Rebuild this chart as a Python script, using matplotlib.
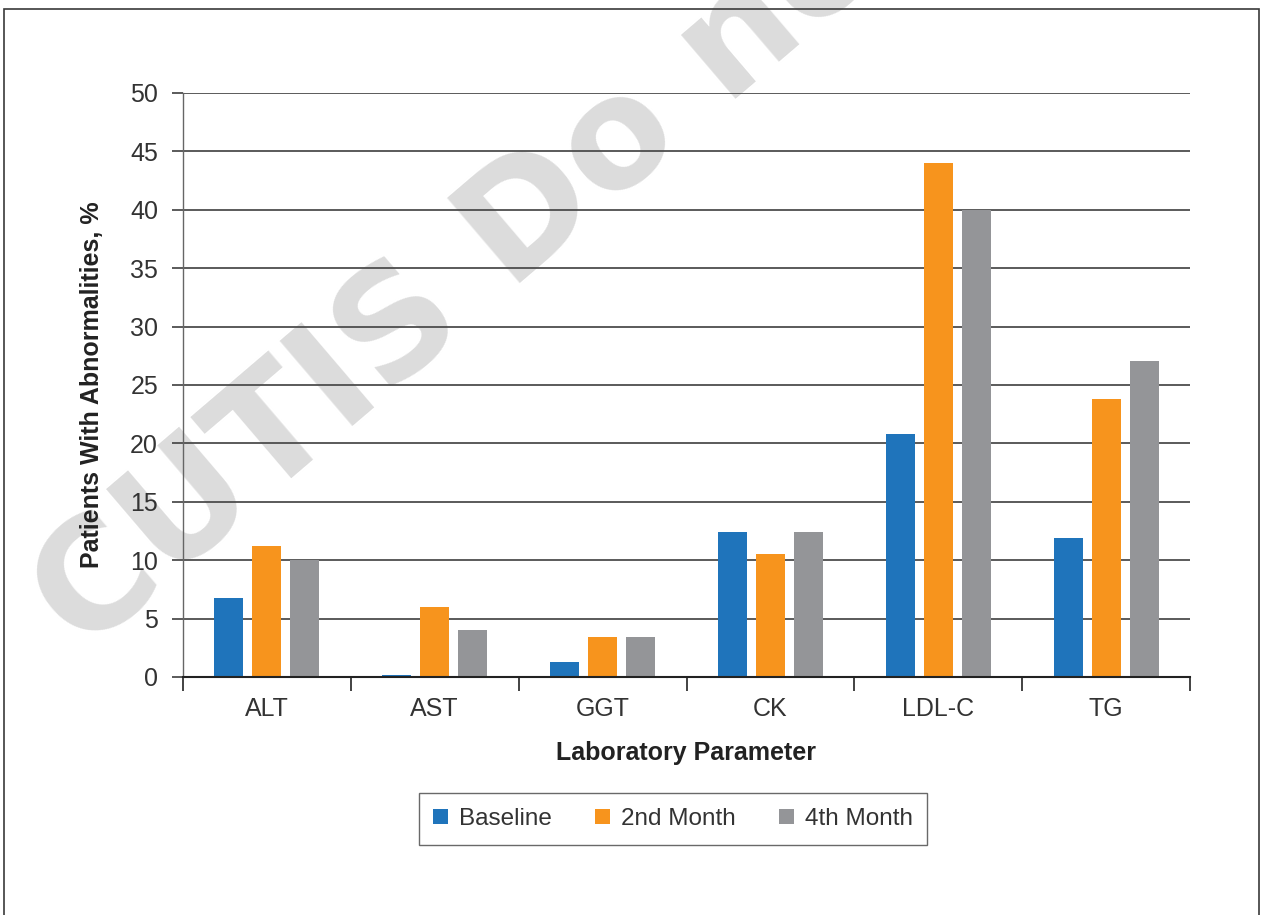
import numpy as np
import matplotlib
matplotlib.use("Agg")
import matplotlib.pyplot as plt
from matplotlib.patches import Rectangle

plt.rcParams['font.family'] = ['Liberation Sans', 'DejaVu Sans']

# data
parametreler = ["ALT", "AST", "GGT", "CK", "LDL-C", "TG"]
baseline = [6.8, 0.2, 1.25, 12.4, 20.8, 11.9]
ay2 = [11.2, 6.0, 3.4, 10.5, 44.0, 23.8]
ay4 = [10.0, 4.0, 3.4, 12.4, 40.0, 27.05]
seri_adlari = ["Baseline", "2nd Month", "4th Month"]
renkler = ["#1f74bb", "#f7941d", "#949598"]
y_ticks = list(range(0, 51, 5))

W, H = 1261, 915
fig = plt.figure(figsize=(W / 100, H / 100), dpi=100)
ax = fig.add_axes([183 / W, 1 - 677 / H, 1007 / W, 584 / H])
ax.patch.set_visible(False)

# watermark behind everything
fig.text(0.066, 0.283, "CUTIS Do not copy", rotation=40.5, rotation_mode='anchor',
         ha='left', va='baseline', fontsize=110, fontweight='bold',
         family='DejaVu Sans', color='#dcdcdc', zorder=-5)

# frame around the figure
fig.add_artist(Rectangle((4 / W, -0.1), (1259 - 4) / W, 1.1 - 9 / H,
                         transform=fig.transFigure, fill=False,
                         edgecolor='#3a3a3a', lw=1.2))

x = np.arange(len(parametreler))
adim = 0.2265
genislik = 0.173
for k, (deger, ad, renk) in enumerate(zip([baseline, ay2, ay4], seri_adlari, renkler)):
    ax.bar(x + (k - 1) * adim, deger, genislik, color=renk, label=ad, zorder=3)

ax.set_xlim(-0.5, len(parametreler) - 0.5)
ax.set_ylim(0, 50)
ax.set_yticks(y_ticks)
ax.yaxis.grid(True, color='#4d4d4d', lw=1.3)
ax.set_axisbelow(True)

ax.set_xticks(np.arange(len(parametreler) + 1) - 0.5)
ax.set_xticklabels([])
ax.set_xticks(x, minor=True)
ax.set_xticklabels(parametreler, minor=True)
ax.tick_params(axis='x', which='major', length=10, width=1.2, color='#222222')
ax.tick_params(axis='x', which='minor', length=0, pad=14.5, labelsize=18, labelcolor='#333333')
ax.tick_params(axis='y', length=8, width=1.3, color='#4d4d4d', pad=10,
               labelsize=18, labelcolor='#333333')

for s in ['top', 'right']:
    ax.spines[s].set_visible(False)
ax.spines['left'].set_color('#666666')
ax.spines['left'].set_linewidth(1.0)
ax.spines['bottom'].set_color('#222222')
ax.spines['bottom'].set_linewidth(1.5)
ax.spines['bottom'].set_zorder(4)

ax.set_ylabel("Patients With Abnormalities, %", fontsize=18, fontweight='bold', color='#222222')
ax.yaxis.set_label_coords(-0.0904, 0.5)
ax.yaxis.label.set_va('center')
ax.set_xlabel("Laboratory Parameter", fontsize=18, fontweight='bold', color='#222222')
ax.xaxis.set_label_coords(0.5, -0.13)
ax.xaxis.label.set_va('center')

leg = fig.legend(loc='center', bbox_to_anchor=(673 / W, 1 - 819 / H), ncol=3,
                 fontsize=17.5, frameon=True, fancybox=False, edgecolor='#444444',
                 handlelength=0.6, handleheight=0.6, handletextpad=0.45,
                 columnspacing=1.8, borderpad=0.6)
leg.get_frame().set_linewidth(1.0)
for t in leg.get_texts():
    t.set_color('#333333')

fig.savefig("out.png", dpi=100)
